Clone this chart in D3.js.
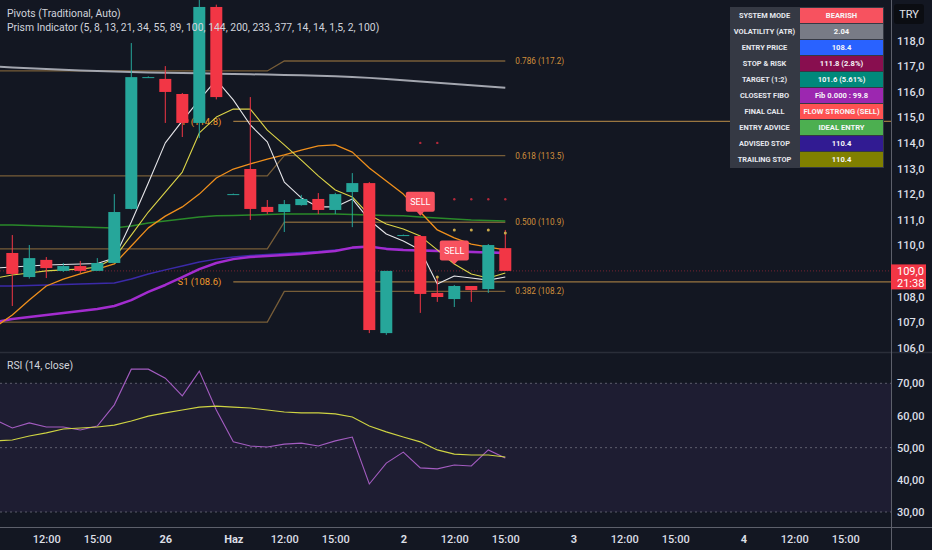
<!DOCTYPE html>
<html>
<head>
<meta charset="utf-8">
<script src="https://cdn.jsdelivr.net/npm/d3@7"></script>
<style>
  html, body { margin: 0; padding: 0; background: #131722; overflow: hidden; }
  svg { display: block; font-family: Roboto, "Noto Sans", sans-serif; }
</style>
</head>
<body>
<svg id="chart" width="932" height="550"></svg>
<script>
// ---- candles (bar index 0..29, hourly) ----
var openP  = [109.70,108.76,109.43,109.00,109.19,109.00,109.31,111.42,116.57,116.50,115.91,114.78,119.31,112.00,112.98,111.50,111.30,111.57,111.81,111.38,112.08,112.43,106.57,110.40,110.36,108.14,107.90,108.41,108.29,109.89];
var highP  = [110.40,110.01,109.54,109.31,109.39,109.50,112.00,117.90,116.60,117.00,115.95,119.90,119.40,112.02,115.79,111.77,111.77,111.97,112.04,112.05,112.82,112.47,109.00,110.42,110.40,108.76,108.45,108.41,110.05,110.60];
var lowP   = [107.63,108.70,108.72,108.96,108.92,109.00,109.30,111.40,116.55,114.78,114.23,114.19,115.70,111.98,110.99,111.22,110.52,111.55,111.22,111.22,110.71,106.57,106.50,110.38,107.36,107.79,107.59,107.79,108.14,109.00];
var closeP = [108.88,109.50,109.11,109.19,109.00,109.31,111.30,116.57,116.57,115.99,114.78,119.31,115.79,112.00,111.42,111.30,111.61,111.81,111.38,112.00,112.43,106.69,109.00,110.40,108.10,107.98,108.41,108.25,110.01,109.00];
var lastPrice = 109.0;
var barCountdown = "21:38";

// ---- indicator lines (bar index -1..29) ----
var maStart = -1;
var smaGray  = [116.98,116.95,116.92,116.89,116.86,116.83,116.81,116.79,116.77,116.75,116.74,116.73,116.72,116.70,116.69,116.68,116.67,116.65,116.64,116.62,116.60,116.57,116.54,116.50,116.45,116.40,116.35,116.30,116.25,116.20,116.15];
var emaGreen = [110.79,110.79,110.77,110.75,110.73,110.71,110.70,110.68,110.75,110.87,110.95,111.03,111.11,111.15,111.16,111.18,111.20,111.22,111.22,111.22,111.22,111.20,111.18,111.16,111.15,111.11,111.07,111.03,110.99,110.97,110.95];
var emaBlue  = [108.41,108.41,108.43,108.45,108.47,108.49,108.51,108.53,108.68,108.88,109.04,109.19,109.35,109.46,109.54,109.60,109.64,109.68,109.72,109.76,109.82,109.88,109.93,109.88,109.84,109.82,109.80,109.78,109.76,109.74,109.72];
var emaPurple= [107.00,107.12,107.20,107.28,107.36,107.43,107.51,107.63,107.86,108.18,108.45,108.76,109.07,109.31,109.46,109.54,109.58,109.62,109.66,109.72,109.78,109.91,109.95,109.86,109.82,109.80,109.78,109.76,109.74,109.72,109.70];
var emaOrange= [106.81,107.28,107.86,108.41,108.68,108.88,109.07,109.27,109.97,110.68,111.14,111.50,112.00,112.63,112.98,113.18,113.37,113.53,113.72,113.88,113.92,113.64,113.02,112.51,112.00,111.30,110.60,110.29,110.05,109.93,109.82];
var emaYellow= [108.72,108.84,108.92,109.00,109.04,109.07,109.15,109.50,110.40,111.30,112.08,112.86,114.39,115.01,115.32,115.32,114.50,113.92,113.33,112.71,112.16,111.89,111.18,110.83,110.64,110.36,109.82,109.27,108.88,108.72,108.92];
var emaWhite = [109.11,109.15,109.19,109.23,109.25,109.27,109.29,109.50,110.91,112.43,114.00,114.86,115.68,116.46,115.68,114.70,114.04,112.47,111.85,111.50,111.50,111.81,110.99,110.44,110.17,109.82,108.49,108.80,108.72,108.64,108.76];

// ---- RSI pane (bar index -1..29) ----
var rsiVals = [58.6,56.1,57.7,56.4,56.4,55.5,56.7,63.3,74.4,74.4,71.6,66.1,73.8,61.7,51.8,50.5,50.2,51.1,51.4,50.5,52.1,53.3,38.7,45.2,48.6,43.7,43.4,44.6,44.3,49.3,46.8];
var rsiMa   = [52.1,52.4,53.6,54.6,55.8,56.1,56.4,57.0,58.3,59.8,60.8,61.7,62.6,62.9,62.6,62.3,61.7,61.1,60.8,60.8,60.5,59.5,56.7,54.9,53.3,51.8,49.3,48.0,47.7,47.7,47.1];

// ---- fibonacci + pivots ----
var fibNames = ["0.786", "0.618", "0.500", "0.382"];
var fibPrev  = [116.81, 112.71, 109.86, 107.00];
var fibNow   = [117.2, 113.5, 110.9, 108.2];
var fibSwitchBar = 16;
var pivotNames = ["P", "S1"];
var pivotVals  = [114.84, 108.57];
var pivotStartBar = 13;

// ---- signals / stop dots ----
var sellIdx = [24, 26];
var sellVal = [111.15, 109.25];
var stopDotIdx = [24, 25, 26, 27, 28, 29];
var stopDotVal = [114.0, 114.0, 111.8, 111.8, 111.8, 111.8];
var trailDotIdx = [25, 26, 27, 28, 29];
var trailDotVal = [108.76, 110.6, 110.6, 110.6, 110.48];

// ---- axes ----
var priceTicks = d3.range(106, 119, 1);
var rsiTicks = [30, 40, 50, 60, 70];
var timeTickIdx = [2, 5, 9, 13, 16, 19, 23, 26, 29, 33, 36, 39, 43, 46, 49];
var timeTickLabels = ["12:00", "15:00", "26", "Haz", "12:00", "15:00", "2", "12:00", "15:00", "3", "12:00", "15:00", "4", "12:00", "15:00"];
var dayTicks = ["26", "Haz", "2", "3", "4"];

// ---- table ----
var tableLabels = ["SYSTEM MODE", "VOLATILITY (ATR)", "ENTRY PRICE", "STOP & RISK", "TARGET (1:2)", "CLOSEST FIBO", "FINAL CALL", "ENTRY ADVICE", "ADVISED STOP", "TRAILING STOP"];
var tableValues = ["BEARISH", "2.04", "108.4", "111.8 (2.8%)", "101.6 (5.61%)", "Fib 0.000 : 99.8", "FLOW STRONG (SELL)", "IDEAL ENTRY", "110.4", "110.4"];
var tableColors = ["#f7525f", "#787b86", "#2962ff", "#880e4f", "#00897b", "#9c27b0", "#ff5252", "#4caf50", "#311b92", "#808000"];

var legendLines = ["Pivots (Traditional, Auto)", "Prism Indicator (5, 8, 13, 21, 34, 55, 89, 100, 144, 200, 233, 377, 14, 14, 1,5, 2, 100)"];

// -------------------------------
var W = 932, H = 550;
var plotR = 891, mainBot = 352, rsiTop = 353, rsiBot = 527;
var txt = "#d1d4dc", upC = "#26a69a", dnC = "#f23645";

var svg = d3.select("#chart");
svg.append("rect").attr("width", W).attr("height", H).attr("fill", "#131722");

var x = d3.scaleLinear().domain([0, 29]).range([12.3, 505.3]);
var y = d3.scaleLinear().domain([106, 118]).range([347.7, 40.5]);
var yR = d3.scaleLinear().domain([30, 70]).range([512, 383.3]);

var defs = svg.append("defs");
defs.append("clipPath").attr("id", "clipMain").append("rect")
  .attr("x", 0).attr("y", 0).attr("width", plotR).attr("height", mainBot);
defs.append("clipPath").attr("id", "clipRsi").append("rect")
  .attr("x", 0).attr("y", rsiTop).attr("width", plotR).attr("height", rsiBot - rsiTop);

var main = svg.append("g").attr("clip-path", "url(#clipMain)");
var barsAll = d3.range(maStart, 30);

// fib step lines
fibNames.forEach(function (name, k) {
  var vals = barsAll.map(function (b) { return b < fibSwitchBar ? fibPrev[k] : fibNow[k]; });
  main.append("path")
    .attr("d", d3.line().x(function (d, j) { return x(j + maStart); }).y(function (d) { return y(d); })(vals))
    .attr("fill", "none").attr("stroke", "#8a6a3c").attr("stroke-width", 1.3).attr("opacity", 0.85);
  main.append("text")
    .attr("x", x(29) + 10).attr("y", y(fibNow[k])).attr("dy", "0.35em")
    .attr("fill", "#d08f3c").attr("font-size", 8.2)
    .text(name + " (" + fibNow[k].toFixed(1) + ")");
});

// pivots
pivotNames.forEach(function (name, k) {
  main.append("line")
    .attr("x1", x(pivotStartBar)).attr("x2", plotR)
    .attr("y1", y(pivotVals[k])).attr("y2", y(pivotVals[k]))
    .attr("stroke", "#9a7640").attr("stroke-width", 1.3);
  main.append("text")
    .attr("x", x(pivotStartBar) - 12).attr("y", y(pivotVals[k])).attr("dy", "0.35em")
    .attr("text-anchor", "end").attr("fill", "#f09a2c").attr("font-size", 9.5)
    .text(name + " (" + pivotVals[k].toFixed(1) + ")");
});

// current price dotted line
main.append("line")
  .attr("x1", 0).attr("x2", plotR).attr("y1", y(lastPrice)).attr("y2", y(lastPrice))
  .attr("stroke", "#f23645").attr("stroke-opacity", 0.45).attr("stroke-dasharray", "1,2");

// moving averages
var maDefs = [
  [smaGray, "#a3a6af", 2],
  [emaGreen, "#2a8a2a", 1.5],
  [emaBlue, "#3b2aa8", 1.5],
  [emaPurple, "#a32ccf", 2.5],
  [emaOrange, "#f0901c", 1.3],
  [emaYellow, "#dcd448", 1.1],
  [emaWhite, "#e6e6ea", 1.1]
];
var maLine = d3.line().x(function (d, j) { return x(j + maStart); }).y(function (d) { return y(d); });
maDefs.forEach(function (m) {
  main.append("path").attr("d", maLine(m[0]))
    .attr("fill", "none").attr("stroke", m[1]).attr("stroke-width", m[2]).attr("stroke-linejoin", "round");
});

// candles
var bodyW = 12;
var cg = main.append("g");
openP.forEach(function (o, i) {
  var c = closeP[i], col = c >= o ? upC : dnC;
  cg.append("line").attr("x1", x(i)).attr("x2", x(i))
    .attr("y1", y(highP[i])).attr("y2", y(lowP[i]))
    .attr("stroke", col).attr("stroke-width", 1);
  var top = y(Math.max(o, c)), bot = y(Math.min(o, c));
  cg.append("rect").attr("x", x(i) - bodyW / 2).attr("y", top)
    .attr("width", bodyW).attr("height", Math.max(1, bot - top)).attr("fill", col);
});

// stop dots
stopDotIdx.forEach(function (b, k) {
  main.append("circle").attr("cx", x(b)).attr("cy", y(stopDotVal[k])).attr("r", 1.2).attr("fill", "#b3283a");
});
trailDotIdx.forEach(function (b, k) {
  main.append("circle").attr("cx", x(b)).attr("cy", y(trailDotVal[k])).attr("r", 1.5).attr("fill", "#c9a94a");
});

// SELL labels
sellIdx.forEach(function (b, k) {
  var tx = x(b), ty = y(sellVal[k]);
  var g = main.append("g");
  g.append("rect").attr("x", tx - 14.5).attr("y", ty - 24).attr("width", 29).attr("height", 20)
    .attr("rx", 2).attr("fill", "#f7525f");
  g.append("path").attr("d", "M" + (tx - 4) + "," + (ty - 4.5) + "L" + (tx + 4) + "," + (ty - 4.5) + "L" + tx + "," + ty + "Z")
    .attr("fill", "#f7525f");
  g.append("text").attr("x", tx).attr("y", ty - 14).attr("dy", "0.35em")
    .attr("text-anchor", "middle").attr("fill", "#ffffff").attr("font-size", 9).text("SELL");
});

// legend
legendLines.forEach(function (t, k) {
  svg.append("text").attr("x", 7).attr("y", 16.5 + k * 14.5)
    .attr("fill", txt).attr("font-size", 10.4).text(t);
});

// table
var tb = svg.append("g");
tb.append("rect").attr("x", 730).attr("y", 7).attr("width", 154).attr("height", 161).attr("fill", "#353944");
tableLabels.forEach(function (t, k) {
  var ry = 8 + k * 16;
  tb.append("text").attr("x", 764.5).attr("y", ry + 7.5).attr("dy", "0.35em")
    .attr("text-anchor", "middle").attr("fill", "#e6e8ee").attr("font-size", 7.4).attr("font-weight", "bold").text(t);
  tb.append("rect").attr("x", 800).attr("y", ry).attr("width", 83).attr("height", 15).attr("fill", tableColors[k]);
  tb.append("text").attr("x", 841.5).attr("y", ry + 7.5).attr("dy", "0.35em")
    .attr("text-anchor", "middle").attr("fill", "#f6f6f8").attr("font-size", 7.6).attr("font-weight", "bold").text(tableValues[k]);
});

// pane separator
svg.append("line").attr("x1", 0).attr("x2", W).attr("y1", mainBot + 0.5).attr("y2", mainBot + 0.5)
  .attr("stroke", "#2a2e39").attr("stroke-width", 1.5);

// RSI pane
var rsi = svg.append("g").attr("clip-path", "url(#clipRsi)");
rsi.append("rect").attr("x", 0).attr("y", yR(70)).attr("width", plotR).attr("height", yR(30) - yR(70))
  .attr("fill", "#7e57c2").attr("fill-opacity", 0.1);
[70, 50, 30].forEach(function (v) {
  rsi.append("line").attr("x1", 0).attr("x2", plotR).attr("y1", yR(v)).attr("y2", yR(v))
    .attr("stroke", "#787b86").attr("stroke-opacity", 0.7).attr("stroke-dasharray", "2,3");
});
var rsiLine = d3.line().x(function (d, j) { return x(j + maStart); }).y(function (d) { return yR(d); });
rsi.append("path").attr("d", rsiLine(rsiVals)).attr("fill", "none").attr("stroke", "#a35cc0").attr("stroke-width", 1.1);
rsi.append("path").attr("d", rsiLine(rsiMa)).attr("fill", "none").attr("stroke", "#cfd443").attr("stroke-width", 1.1);
svg.append("text").attr("x", 7).attr("y", 369).attr("fill", txt).attr("font-size", 10.4).text("RSI (14, close)");

// axes borders
svg.append("line").attr("x1", plotR + 0.5).attr("x2", plotR + 0.5).attr("y1", 0).attr("y2", H)
  .attr("stroke", "#5d606b").attr("stroke-width", 1);
svg.append("line").attr("x1", 0).attr("x2", W).attr("y1", rsiBot + 0.5).attr("y2", rsiBot + 0.5)
  .attr("stroke", "#5d606b").attr("stroke-width", 1);

// price axis
var pAx = svg.append("g").attr("transform", "translate(" + plotR + ",0)")
  .call(d3.axisRight(y).tickValues(priceTicks).tickSize(0).tickPadding(6)
    .tickFormat(function (d) { return d.toFixed(1).replace(".", ","); }));
var rAx = svg.append("g").attr("transform", "translate(" + plotR + ",0)")
  .call(d3.axisRight(yR).tickValues(rsiTicks).tickSize(0).tickPadding(6)
    .tickFormat(function (d) { return d.toFixed(2).replace(".", ","); }));
var tAx = svg.append("g").attr("transform", "translate(0," + rsiBot + ")")
  .call(d3.axisBottom(x).tickValues(timeTickIdx).tickSize(0).tickPadding(8)
    .tickFormat(function (d, i) { return timeTickLabels[i]; }));
[pAx, rAx, tAx].forEach(function (a) {
  a.select(".domain").remove();
  a.selectAll("text").attr("fill", "#dcdfe6").attr("font-size", 11).attr("font-weight", 500)
    .attr("font-family", "Roboto, 'Noto Sans', sans-serif");
});
tAx.selectAll("text").attr("font-weight", function (d, i) { return dayTicks.indexOf(timeTickLabels[i]) >= 0 ? "bold" : 500; });

// last price tag
var ly = y(lastPrice);
svg.append("rect").attr("x", plotR).attr("y", ly - 6.5).attr("width", 35).attr("height", 25).attr("fill", "#f23645");
svg.append("text").attr("x", plotR + 6).attr("y", ly).attr("dy", "0.35em").attr("fill", "#ffffff").attr("font-size", 11)
  .text(lastPrice.toFixed(1).replace(".", ","));
svg.append("text").attr("x", plotR + 6).attr("y", ly + 12).attr("dy", "0.35em").attr("fill", "#ffffff").attr("font-size", 11)
  .text(barCountdown);

// currency box
svg.append("rect").attr("x", 894).attr("y", 4).attr("width", 30).attr("height", 20).attr("rx", 3).attr("fill", "#0b0d12");
svg.append("text").attr("x", 909).attr("y", 14).attr("dy", "0.35em").attr("text-anchor", "middle")
  .attr("fill", "#e0e3eb").attr("font-size", 11).text("TRY");
</script>
</body>
</html>
